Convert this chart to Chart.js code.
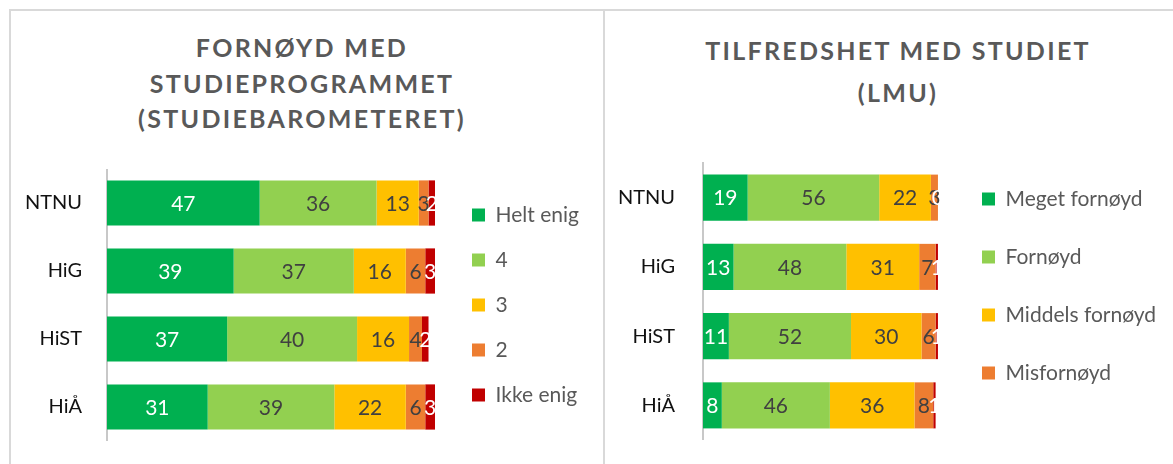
<!DOCTYPE html>
<html lang="no">
<head>
    <meta charset="UTF-8">
    <title>Fornøyd med studiet</title>
    <script src="https://cdn.jsdelivr.net/npm/chart.js"></script>
    <style>
        body { margin: 0; background: #fff; width: 1173px; height: 464px; overflow: hidden; position: relative; font-family: Lato, "Open Sans", sans-serif; }
        .frame { position: absolute; background: #d9d9d9; }
        .title { position: absolute; text-align: center; color: #595959; font-weight: bold; font-size: 25px; letter-spacing: 2.3px; }
        canvas { position: absolute; }
    </style>
</head>
<body>
    <div class="frame" style="left:9px; top:9px; width:1164px; height:2px;"></div>
    <div class="frame" style="left:9px; top:9px; width:2px; height:455px;"></div>
    <div class="frame" style="left:603px; top:9px; width:2px; height:455px;"></div>

    <div class="title" style="left:102px; top:30px; width:400px; line-height:35.5px;">FORNØYD MED<br>STUDIEPROGRAMMET<br>(STUDIEBAROMETERET)</div>
    <div class="title" style="left:648px; top:29px; width:500px; line-height:42px;">TILFREDSHET MED STUDIET<br>(LMU)</div>

    <canvas id="leftChart" width="590" height="272" style="left:10px; top:169px;"></canvas>
    <canvas id="rightChart" width="567" height="308" style="left:606px; top:132px;"></canvas>

    <script>
        // categories
        const schools = ['NTNU', 'HiG', 'HiST', 'HiÅ'];

        // Studiebarometeret (percent)
        const leftLabels = ['Helt enig', '4', '3', '2', 'Ikke enig'];
        const heltEnig = [47, 39, 37, 31];
        const fire = [36, 37, 40, 39];
        const tre = [13, 16, 16, 22];
        const to = [3, 6, 4, 6];
        const ikkeEnig = [2, 3, 2, 3];

        // LMU (percent)
        const rightLabels = ['Meget fornøyd', 'Fornøyd', 'Middels fornøyd', 'Misfornøyd', 'Meget misfornøyd'];
        const megetFornoyd = [19, 13, 11, 8];
        const fornoyd = [56, 48, 52, 46];
        const middels = [22, 31, 30, 36];
        const misfornoyd = [3, 7, 6, 8];
        const megetMisfornoyd = [0, 1, 1, 1];

        const colors = ['#00B050', '#92D050', '#FFC000', '#ED7D31', '#C00000'];
        const labelColors = ['#ffffff', '#404040', '#404040', '#404040', '#ffffff'];
        const FONT = 'Lato, "Open Sans", sans-serif';
        const LEGEND_SIZE = 21;

        // value labels centred in each segment
        const segmentLabels = {
            id: 'segmentLabels',
            afterDatasetsDraw(chart) {
                const ctx = chart.ctx;
                const area = chart.chartArea;
                ctx.save();
                ctx.beginPath();
                ctx.rect(area.left, area.top, area.right - area.left + 4, area.bottom - area.top);
                ctx.clip();
                ctx.font = '21px ' + FONT;
                ctx.textAlign = 'center';
                ctx.textBaseline = 'middle';
                chart.data.datasets.forEach((ds, i) => {
                    const meta = chart.getDatasetMeta(i);
                    meta.data.forEach((bar, j) => {
                        ctx.fillStyle = labelColors[i];
                        ctx.fillText(String(ds.data[j]), (bar.x + bar.base) / 2, bar.y + 1);
                    });
                });
                ctx.restore();
            }
        };

        // right padding so that the legend starts where it should
        function legendPadding(texts, pad, canvasW, legendLeft) {
            const m = document.createElement('canvas').getContext('2d');
            m.font = LEGEND_SIZE + 'px ' + FONT;
            const maxText = Math.max(...texts.map(t => m.measureText(t).width));
            const legendW = pad + 13 + LEGEND_SIZE / 2 + maxText + 10;
            return Math.max(0, canvasW - legendLeft - legendW);
        }

        function makeChart(id, labels, series, opts) {
            return new Chart(document.getElementById(id), {
                type: 'bar',
                data: {
                    labels: schools,
                    datasets: series.map((d, i) => ({
                        label: labels[i],
                        data: d,
                        backgroundColor: colors[i],
                        borderWidth: 0,
                        barPercentage: 0.665,
                        categoryPercentage: 1
                    }))
                },
                options: {
                    indexAxis: 'y',
                    responsive: false,
                    animation: false,
                    layout: { padding: { right: opts.padRight } },
                    scales: {
                        x: {
                            stacked: true,
                            min: 0,
                            max: opts.max,
                            display: opts.topGap > 0,
                            position: 'top',
                            grid: { display: false },
                            border: { display: false },
                            ticks: { display: false },
                            afterFit: s => { s.height = opts.topGap; s.paddingLeft = 0; s.paddingRight = 0; }
                        },
                        y: {
                            stacked: true,
                            grid: { display: false },
                            border: { color: '#c8c8c8', width: 2 },
                            ticks: { color: '#111', padding: opts.tickPad, font: { size: 20, family: FONT } },
                            afterFit: s => { s.width = 97; s.paddingTop = 0; s.paddingBottom = 0; }
                        }
                    },
                    plugins: {
                        tooltip: { enabled: false },
                        legend: {
                            position: 'right',
                            align: 'center',
                            maxWidth: 400,
                            labels: {
                                boxWidth: 13,
                                boxHeight: 13,
                                padding: opts.legendPad,
                                color: '#595959',
                                font: { size: LEGEND_SIZE, family: FONT },
                                filter: item => item.datasetIndex < opts.legendCount
                            }
                        }
                    }
                },
                plugins: [segmentLabels]
            });
        }

        makeChart('leftChart', leftLabels, [heltEnig, fire, tre, to, ikkeEnig], {
            max: 105, topGap: 0, tickPad: 17, legendPad: 24, legendCount: 5,
            padRight: legendPadding(leftLabels, 24, 590, 438)
        });

        makeChart('rightChart', rightLabels, [megetFornoyd, fornoyd, middels, misfornoyd, megetMisfornoyd], {
            max: 103, topGap: 31, tickPad: 20, legendPad: 37, legendCount: 4,
            padRight: legendPadding(rightLabels.slice(0, 4), 37, 567, 339)
        });
    </script>
</body>
</html>
